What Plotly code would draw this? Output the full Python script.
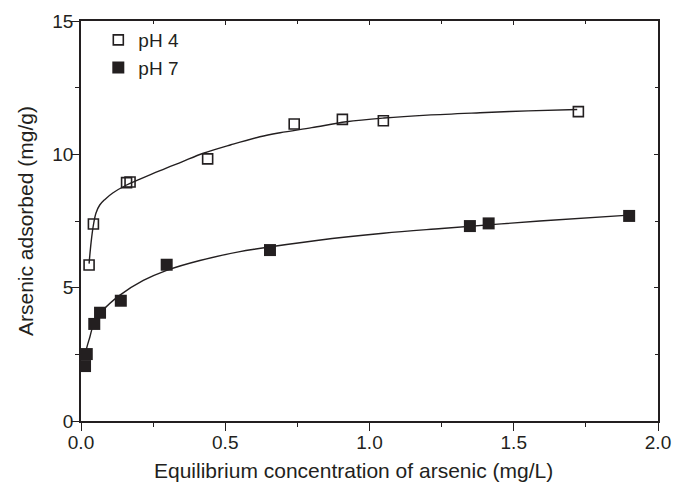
import plotly.graph_objects as go

# Data
ph4_x = [0.028, 0.043, 0.158, 0.170, 0.439, 0.739, 0.906, 1.048, 1.724]
ph4_y = [5.85, 7.39, 8.94, 8.96, 9.83, 11.14, 11.31, 11.26, 11.60]

ph7_x = [0.014, 0.020, 0.046, 0.066, 0.138, 0.297, 0.655, 1.348, 1.413, 1.900]
ph7_y = [2.06, 2.51, 3.64, 4.06, 4.51, 5.86, 6.41, 7.31, 7.41, 7.69]

# Fitted curves
fit4_x = [0.028, 0.035, 0.043, 0.052, 0.065, 0.083, 0.11, 0.158, 0.20, 0.274, 0.35, 0.424,
          0.52, 0.62, 0.69, 0.80, 0.92, 1.05, 1.20, 1.383, 1.55, 1.72]
fit4_y = [5.9, 6.7, 7.35, 7.8, 8.1, 8.31, 8.55, 8.85, 9.05, 9.39, 9.72, 10.04,
          10.36, 10.66, 10.81, 11.0, 11.22, 11.36, 11.47, 11.56, 11.63, 11.68]

fit7_x = [0.012, 0.02, 0.031, 0.043, 0.077, 0.135, 0.216, 0.297, 0.412, 0.551, 0.60,
          0.817, 1.048, 1.25, 1.59, 1.90]
fit7_y = [2.3, 2.75, 3.16, 3.6, 4.16, 4.72, 5.27, 5.65, 6.02, 6.35, 6.44,
          6.77, 7.04, 7.22, 7.50, 7.72]

x_ticks = [0.0, 0.5, 1.0, 1.5, 2.0]
y_ticks = [0, 5, 10, 15]

INK = "#231f20"
FONT = "Liberation Sans, Arial, sans-serif"

fig = go.Figure()
fig.add_trace(go.Scatter(x=fit4_x, y=fit4_y, mode="lines", line=dict(color=INK, width=1.4, shape="spline"),
                         showlegend=False, hoverinfo="skip"))
fig.add_trace(go.Scatter(x=fit7_x, y=fit7_y, mode="lines", line=dict(color=INK, width=1.4, shape="spline"),
                         showlegend=False, hoverinfo="skip"))
fig.add_trace(go.Scatter(x=ph4_x, y=ph4_y, mode="markers", name="pH 4",
                         marker=dict(symbol="square-open", size=10, color=INK, line=dict(width=1.6, color=INK))))
fig.add_trace(go.Scatter(x=ph7_x, y=ph7_y, mode="markers", name="pH 7",
                         marker=dict(symbol="square", size=12, color=INK, line=dict(width=0))))
# dummy trace to render mirrored axes with inside ticks
fig.add_trace(go.Scatter(x=[None], y=[None], xaxis="x2", yaxis="y2", showlegend=False, hoverinfo="skip"))

axis_common = dict(showgrid=False, zeroline=False, linecolor=INK, linewidth=1.6, tickcolor=INK,
                   tickwidth=1.4, automargin=False, tickfont=dict(family=FONT, size=19, color=INK))

fig.update_layout(
    width=675, height=485,
    margin=dict(l=81, r=17, t=21, b=64),
    paper_bgcolor="white", plot_bgcolor="white",
    font=dict(family=FONT, color=INK),
    xaxis=dict(range=[0, 2.0], tickvals=x_ticks, tickformat=".1f", ticks="outside", ticklen=8,
               ticklabelstandoff=-5,
               minor=dict(ticks="outside", ticklen=4, dtick=0.25, tickcolor=INK, tickwidth=1.4),
               **axis_common),
    yaxis=dict(range=[0, 15], tickvals=y_ticks, ticks="outside", ticklen=8,
               ticklabelstandoff=-6,
               minor=dict(ticks="outside", ticklen=4, dtick=2.5, tickcolor=INK, tickwidth=1.4),
               **axis_common),
    xaxis2=dict(range=[0, 2.0], overlaying="x", side="top", tickvals=x_ticks, ticks="inside", ticklen=4,
                showticklabels=False,
                minor=dict(ticks="inside", ticklen=3, dtick=0.25, tickcolor=INK, tickwidth=1.2),
                **axis_common),
    yaxis2=dict(range=[0, 15], overlaying="y", side="right", tickvals=y_ticks, ticks="inside", ticklen=4,
                showticklabels=False,
                minor=dict(ticks="inside", ticklen=3, dtick=2.5, tickcolor=INK, tickwidth=1.2),
                **axis_common),
    legend=dict(x=0.03, y=1.0, xanchor="left", yanchor="top", bgcolor="rgba(0,0,0,0)",
                font=dict(family=FONT, size=19, color=INK), itemsizing="trace", tracegroupgap=6),
    annotations=[
        dict(text="Equilibrium concentration of arsenic (mg/L)", xref="paper", yref="paper",
             x=0.473, y=-0.1225, xanchor="center", yanchor="middle", showarrow=False,
             font=dict(family=FONT, size=21, color=INK)),
        dict(text="Arsenic adsorbed (mg/g)", xref="paper", yref="paper", textangle=-90,
             x=-0.097, y=0.5, xanchor="center", yanchor="middle", showarrow=False,
             font=dict(family=FONT, size=21, color=INK)),
    ],
)

fig.write_html("out.html", config={"displayModeBar": False},
               post_script="document.body.style.margin='0';document.body.style.overflow='hidden';")
